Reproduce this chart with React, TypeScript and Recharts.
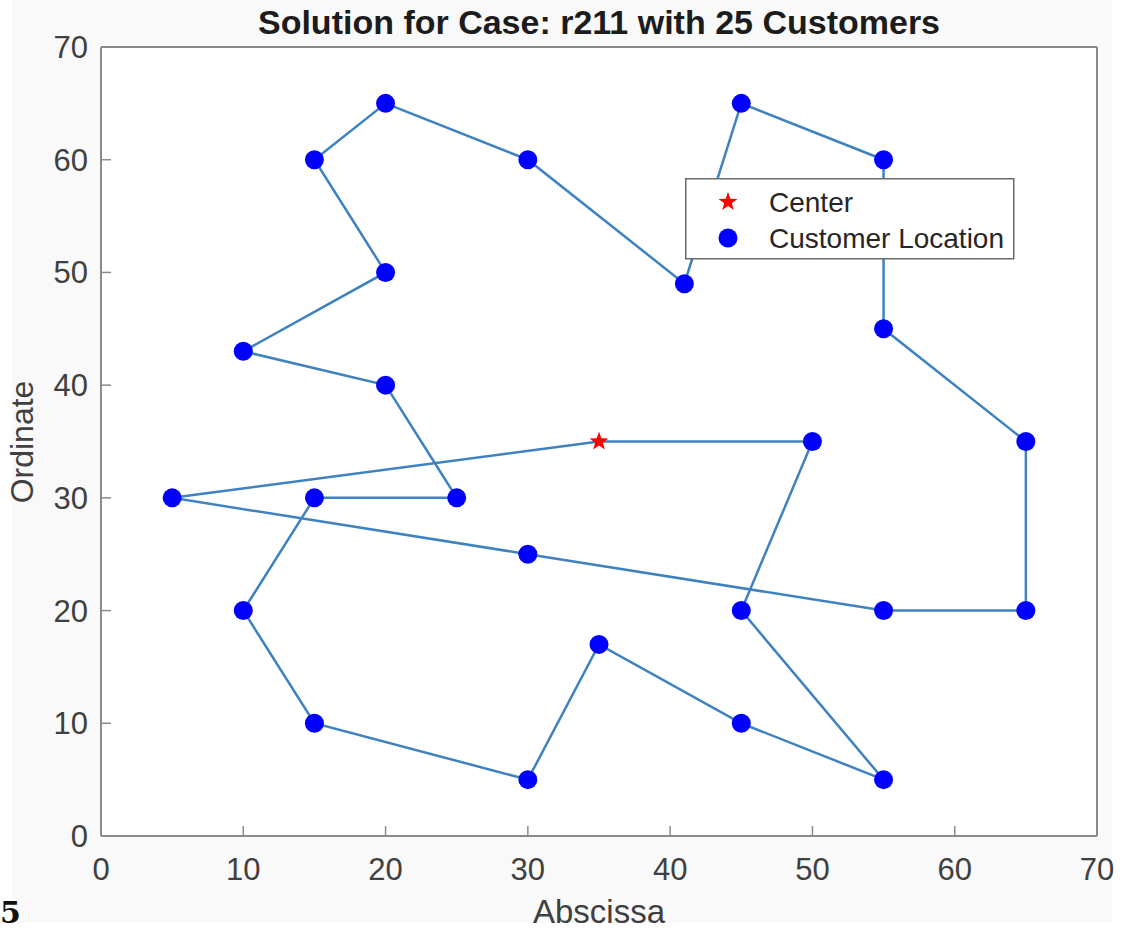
import React from 'react';
import { ScatterChart, Scatter, XAxis, YAxis, Legend, CartesianGrid } from 'recharts';

// Depot location
const centerX = [35];
const centerY = [35];

// Customers in visiting order along the route
const customerX = [50, 45, 55, 45, 35, 30, 15, 10, 15, 25, 20, 10, 20, 15, 20, 30, 41, 45, 55, 55, 65, 65, 55, 30, 5];
const customerY = [35, 20, 5, 10, 17, 5, 10, 20, 30, 30, 40, 43, 50, 60, 65, 60, 49, 65, 60, 45, 35, 20, 20, 25, 30];

const axisTicks = [0, 10, 20, 30, 40, 50, 60, 70];

const centerData = centerX.map((x, i) => ({ x, y: centerY[i] }));
const customerData = customerX.map((x, i) => ({ x, y: customerY[i] }));
// Closed tour: depot -> customers -> depot
const routeData = [...centerData, ...customerData, ...centerData];

const FONT = '"Liberation Sans", Arial, Helvetica, sans-serif';
const AXIS_GRAY = '#8a8a8a';
const LINE_BLUE = '#3f82c0';

const starPath = (cx: number, cy: number, R: number, r: number) => {
  const pts: string[] = [];
  for (let i = 0; i < 10; i++) {
    const rad = i % 2 === 0 ? R : r;
    const a = -Math.PI / 2 + (i * Math.PI) / 5;
    pts.push(`${(cx + rad * Math.cos(a)).toFixed(2)},${(cy + rad * Math.sin(a)).toFixed(2)}`);
  }
  return `M${pts.join('L')}Z`;
};

const EmptyShape = () => <g />;

const CustomerDot = (props: any) => <circle cx={props.cx} cy={props.cy} r={9.5} fill="#0000ff" />;

const CenterStar = (props: any) => <path d={starPath(props.cx, props.cy, 10, 4)} fill="#ff0000" />;

const LegendBox = () => (
  <svg width={330} height={82} style={{ display: 'block' }}>
    <rect x={0.75} y={0.75} width={328} height={80} fill="#ffffff" stroke="#6a6a6a" strokeWidth={1.5} />
    <path d={starPath(43, 24, 10, 4)} fill="#ff0000" />
    <text x={84} y={34} fontFamily={FONT} fontSize={28} fill="#262626">Center</text>
    <circle cx={43} cy={60} r={9.5} fill="#0000ff" />
    <text x={84} y={70} fontFamily={FONT} fontSize={28} fill="#262626">Customer Location</text>
  </svg>
);

const tickStyle = { fontSize: 31, fill: '#404040', fontFamily: FONT };
const boxLine = { stroke: AXIS_GRAY, strokeWidth: 2 };
const boxTick = { stroke: AXIS_GRAY, strokeWidth: 1.5 };

export default function App() {
  return (
    <div style={{ position: 'absolute', left: 0, top: 0, width: 1123, height: 934, background: '#ffffff', overflow: 'hidden' }}>
      <div style={{ position: 'absolute', left: 12, top: 0, width: 1100, height: 923, background: '#f9f9f9' }} />
      <div style={{ position: 'absolute', left: 0, top: 0 }}>
        <ScatterChart width={1123} height={934} margin={{ top: 46, right: 25, bottom: 8, left: 10 }}>
          <CartesianGrid fill="#ffffff" horizontal={false} vertical={false} />
          <XAxis
            type="number"
            dataKey="x"
            domain={[0, 70]}
            ticks={axisTicks}
            allowDataOverflow
            height={90}
            tickSize={-10}
            tickMargin={32}
            tick={tickStyle}
            axisLine={boxLine}
            tickLine={boxTick}
          />
          <XAxis
            xAxisId="top"
            orientation="top"
            type="number"
            dataKey="x"
            domain={[0, 70]}
            ticks={axisTicks}
            allowDataOverflow
            height={1}
            tickSize={-10}
            tick={false}
            axisLine={boxLine}
            tickLine={boxTick}
          />
          <YAxis
            type="number"
            dataKey="y"
            domain={[0, 70]}
            ticks={axisTicks}
            allowDataOverflow
            width={91}
            tickSize={-10}
            tickMargin={23}
            tick={tickStyle}
            axisLine={boxLine}
            tickLine={boxTick}
          />
          <YAxis
            yAxisId="right"
            orientation="right"
            type="number"
            dataKey="y"
            domain={[0, 70]}
            ticks={axisTicks}
            allowDataOverflow
            width={1}
            tickSize={-10}
            tick={false}
            axisLine={boxLine}
            tickLine={boxTick}
          />
          {/* invisible series bound to the top/right axes so the box edges render */}
          <Scatter
            name="box"
            xAxisId="top"
            yAxisId="right"
            data={routeData}
            shape={EmptyShape}
            legendType="none"
            isAnimationActive={false}
          />
          <Scatter
            name="route"
            data={routeData}
            line={{ stroke: LINE_BLUE, strokeWidth: 2.5 }}
            shape={EmptyShape}
            legendType="none"
            isAnimationActive={false}
          />
          <Scatter name="Customer Location" data={customerData} shape={CustomerDot} isAnimationActive={false} />
          <Scatter name="Center" data={centerData} shape={CenterStar} isAnimationActive={false} />
          <Legend
            layout="vertical"
            align="center"
            verticalAlign="middle"
            content={LegendBox}
            wrapperStyle={{ position: 'absolute', left: 685, top: 178, width: 330, height: 82 }}
          />
        </ScatterChart>
      </div>
      <svg
        width={1123}
        height={934}
        style={{ position: 'absolute', left: 0, top: 0, pointerEvents: 'none' }}
      >
        <text x={599} y={34} textAnchor="middle" fontFamily={FONT} fontWeight="bold" fontSize={34} fill="#1c1c1c">
          Solution for Case: r211 with 25 Customers
        </text>
        <text x={599} y={923} textAnchor="middle" fontFamily={FONT} fontSize={33} fill="#404040">
          Abscissa
        </text>
        <text
          x={33}
          y={442}
          textAnchor="middle"
          transform="rotate(-90 33 442)"
          fontFamily={FONT}
          fontSize={32}
          fill="#404040"
        >
          Ordinate
        </text>
        <text x={0} y={923} fontFamily='"DejaVu Serif", "Liberation Serif", serif' fontWeight="bold" fontSize={30} fill="#111111">
          5
        </text>
      </svg>
    </div>
  );
}
